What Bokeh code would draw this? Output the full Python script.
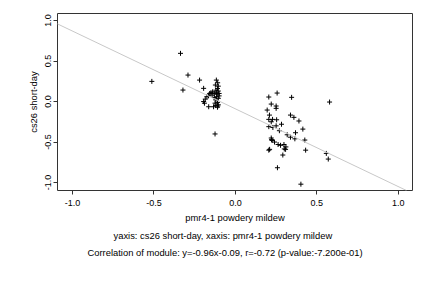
from bokeh.plotting import figure
from bokeh.models import Range1d, FixedTicker, Slope, Title, NumeralTickFormatter
from bokeh.embed import file_html
from bokeh.resources import INLINE

# ---- data ----
x_vals = [
    -0.513, -0.337, -0.291, -0.322, -0.220, -0.195, -0.125,
    -0.117, -0.109, -0.123, -0.105, -0.110, -0.120, -0.105, -0.115, -0.100,
    -0.113, -0.130, -0.143, -0.158, -0.150, -0.165, -0.175, -0.185, -0.190,
    -0.195, -0.164, -0.134, -0.110, -0.120, -0.105, -0.110, -0.120, -0.105,
    -0.130, -0.115, -0.100, -0.125, -0.140, -0.108,
    0.205, 0.256, 0.345, 0.578, 0.220, 0.250, 0.250, 0.195, 0.209, 0.338,
    0.359, 0.205, 0.228, 0.253, 0.220, 0.283, 0.390, 0.205, 0.230, 0.250,
    0.270, 0.414, 0.318, 0.369, 0.338, 0.365, 0.220, 0.225, 0.222, 0.240,
    0.262, 0.277, 0.298, 0.310, 0.300, 0.426, 0.210, 0.205, 0.308, 0.431,
    0.291, 0.558, 0.570, 0.258, 0.402,
]
y_vals = [
    0.249, 0.595, 0.327, 0.142, 0.265, 0.163, -0.400,
    0.265, 0.232, 0.204, 0.190, 0.160, 0.140, 0.130, 0.115, 0.100,
    0.090, 0.100, 0.080, 0.100, 0.110, 0.070, 0.060, 0.030, -0.020,
    0.000, -0.064, -0.064, -0.070, -0.050, -0.040, -0.010, 0.020, 0.040,
    0.050, 0.060, 0.070, -0.020, 0.120, -0.055,
    0.056, 0.105, 0.052, -0.006, -0.031, -0.055, -0.084, -0.105, -0.167, -0.167,
    -0.195, -0.220, -0.220, -0.225, -0.250, -0.280, -0.240, -0.310, -0.320, -0.300,
    -0.360, -0.340, -0.410, -0.385, -0.440, -0.460, -0.450, -0.480, -0.470, -0.500,
    -0.530, -0.540, -0.530, -0.560, -0.585, -0.475, -0.590, -0.600, -0.590, -0.600,
    -0.660, -0.640, -0.710, -0.817, -1.020,
]
fit_slope = -0.96
fit_intercept = -0.09
tick_values = [-1.0, -0.5, 0.0, 0.5, 1.0]

x_label = "pmr4-1 powdery mildew"
y_label = "cs26 short-day"
sub1 = "yaxis: cs26 short-day, xaxis: pmr4-1 powdery mildew"
sub2 = "Correlation of module: y=-0.96x-0.09, r=-0.72 (p-value:-7.200e-01)"

FONT = "Liberation Sans"
FS = "9px"
FS_T = "9.4px"

p = figure(width=432, height=288, output_backend="svg", toolbar_location=None,
           x_range=Range1d(-1.092, 1.087), y_range=Range1d(-1.098, 1.087),
           min_border_left=57, min_border_right=20, min_border_top=13,
           min_border_bottom=98)
p.background_fill_color = "white"
p.border_fill_color = "white"
p.outline_line_color = "#333333"
p.outline_line_width = 1
p.xgrid.visible = False
p.ygrid.visible = False

for ax in (p.xaxis[0], p.yaxis[0]):
    ax.ticker = FixedTicker(ticks=tick_values)
    ax.formatter = NumeralTickFormatter(format="0.0")
    ax.axis_line_color = None
    ax.major_tick_in = 0
    ax.major_tick_out = 4
    ax.major_tick_line_color = "#333333"
    ax.minor_tick_line_color = None
    ax.major_label_text_font = FONT
    ax.major_label_text_font_size = FS
    ax.major_label_text_color = "black"
    ax.axis_label_text_font = FONT
    ax.axis_label_text_font_size = FS_T
    ax.axis_label_text_font_style = "normal"
    ax.axis_label_text_color = "black"

p.xaxis[0].axis_label = x_label
p.xaxis[0].major_label_standoff = 5
p.xaxis[0].axis_label_standoff = 3
p.yaxis[0].axis_label = y_label
p.yaxis[0].major_label_orientation = "vertical"
p.yaxis[0].major_label_standoff = 2
p.yaxis[0].axis_label_standoff = 4

p.add_layout(Slope(gradient=fit_slope, y_intercept=fit_intercept,
                   line_color="#c8c8c8", line_width=1))

p.scatter(x_vals, y_vals, marker="cross", size=5, line_color="black",
          line_width=1)

t1 = Title(text=sub1, align="left", offset=56, text_font=FONT,
           text_font_size=FS_T, text_font_style="normal", text_color="black",
           standoff=4)
t2 = Title(text=sub2, align="left", offset=30, text_font=FONT,
           text_font_size=FS_T, text_font_style="normal", text_color="black",
           standoff=4)
p.add_layout(t1, "below")
p.add_layout(t2, "below")

open("out.html", "w").write(file_html(p, INLINE))
